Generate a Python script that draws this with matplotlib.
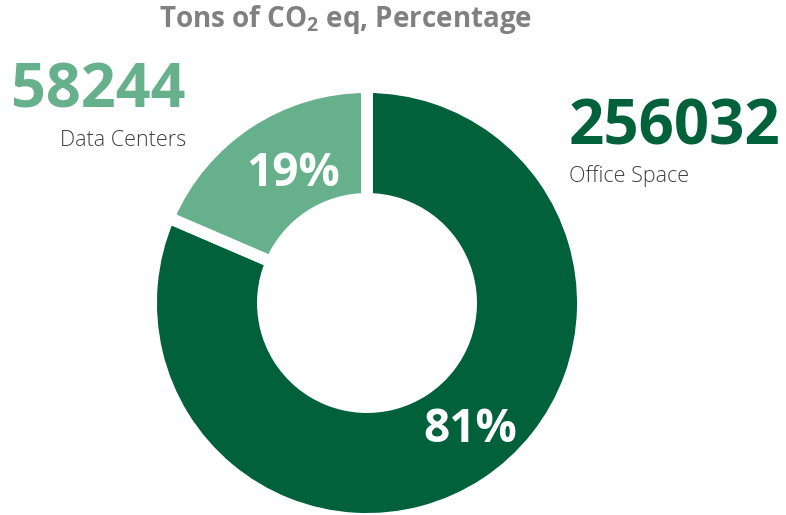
import matplotlib.pyplot as plt

plt.rcParams['font.family'] = ['Open Sans', 'DejaVu Sans']
plt.rcParams['mathtext.default'] = 'regular'

# data
labels = ['Office Space', 'Data Centers']
tons = [256032, 58244]
colors = ['#00613A', '#66B18C']

total = sum(tons)
pcts = [round(t / total * 100) for t in tons]

W, H = 786, 515
fig = plt.figure(figsize=(W / 100, H / 100), dpi=100)

# donut placed by pixel centre / radius (outer radius incl. white stroke)
cx, cy, R = 367, 303, 216
ax = fig.add_axes([(cx - R) / W, (H - cy - R) / H, 2 * R / W, 2 * R / H])
ax.pie(tons, colors=colors, startangle=90, counterclock=False, radius=1,
       wedgeprops=dict(width=112 / R, edgecolor='white', linewidth=8.6))
ax.set_xlim(-1, 1)
ax.set_ylim(-1, 1)
ax.set_aspect('equal')
ax.axis('off')

def px(x, y):
    return x / W, 1 - y / H

# title
fig.text(*px(346, 20), r'Tons of CO$_{2}$ eq, Percentage', ha='center', va='center',
         fontsize=20, fontweight='bold', color='#808080')

# big numbers + labels
fig.text(*px(186, 92), str(tons[1]), ha='right', va='center',
         fontsize=44, fontweight='bold', color=colors[1])
fig.text(*px(186, 140), labels[1], ha='right', va='center',
         fontsize=15.5, fontweight='light', color='#404040')

fig.text(*px(569, 128), str(tons[0]), ha='left', va='center',
         fontsize=44.5, fontweight='bold', color=colors[0])
fig.text(*px(569, 176), labels[0], ha='left', va='center',
         fontsize=15.5, fontweight='light', color='#404040')

# percentages on ring
fig.text(*px(293, 174), f'{pcts[1]}%', ha='center', va='center',
         fontsize=33, fontweight='bold', color='white')
fig.text(*px(470, 430), f'{pcts[0]}%', ha='center', va='center',
         fontsize=33, fontweight='bold', color='white')

fig.savefig('out.png', dpi=100, facecolor='white')
